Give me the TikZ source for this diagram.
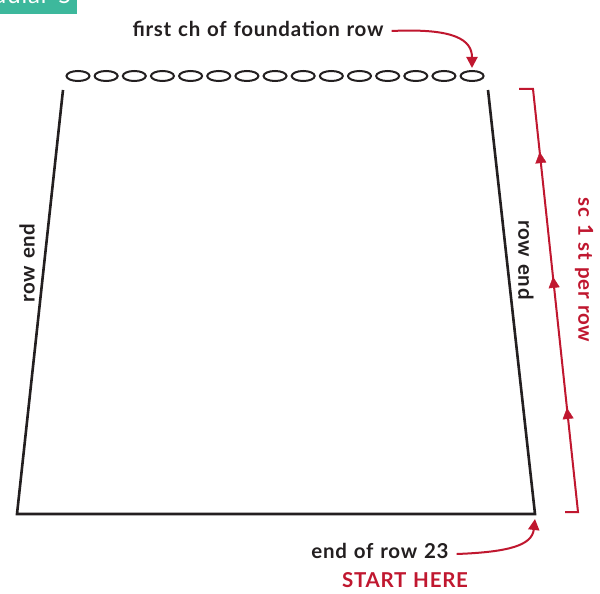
\documentclass[tikz,border=0pt]{standalone}
\usepackage{fontspec}
\setmainfont{Lato}[LetterSpace=3.5,WordSpace=1.2]
\usetikzlibrary{arrows.meta,decorations.markings}
\definecolor{ink}{HTML}{231F20}
\definecolor{redc}{HTML}{C0172F}
\definecolor{teal}{HTML}{3DB89C}
\begin{document}
\begin{tikzpicture}[x=1pt,y=-1pt,
  outline/.style={ink,line width=2.6pt},
  chainst/.style={ink,line width=2pt},
  redline/.style={redc,line width=2pt},
  lbl/.style={ink,font=\bfseries\fontsize{20.5}{20.5}\selectfont,inner sep=0pt},
  rlbl/.style={redc,font=\bfseries\fontsize{20.5}{20.5}\selectfont,inner sep=0pt},
  tip/.style={-{Triangle[length=11pt,width=11pt]}}]
\useasboundingbox (0,0) rectangle (600,594);
\fill[white] (0,0) rectangle (600,594);
% teal header
\begin{scope}
\clip (0,0) rectangle (77,14);
\fill[teal] (0,0) rectangle (77,14);
\node[white,font=\fontsize{24}{24}\selectfont,inner sep=0pt,anchor=base east] (hdr) at (72,4) {Modular 5};
\end{scope}
% trapezoid
\coordinate (tl) at (63,90);
\coordinate (bl) at (17,514);
\coordinate (br) at (535,514);
\coordinate (tr) at (488,90);
\draw[outline,line join=miter] (tl) -- (bl) -- (br) -- (tr);
% chain
\foreach \i in {0,...,14}{
  \draw[chainst] (78+28.15*\i,76) ellipse (11.5pt and 5pt);
}
\coordinate (ch1) at (472,68);
% top label
\node[lbl,anchor=base] (top) at (258,37) {first ch of foundation row};
\draw[redline,tip] (top.east |- 0,31) ++(8,0) coordinate (ta) .. controls (455,28) and (472,40) .. (ch1);
% row end labels
\node[lbl,rotate=90] (le) at (27,263) {row end};
\node[lbl,rotate=-90] (re) at (526,260) {row end};
% bracket
\coordinate (b1) at (519,89);
\coordinate (b2) at (533,89);
\coordinate (b3) at (578,512);
\coordinate (b4) at (565,512);
\draw[redline,line join=miter] (b1) -- (b2) -- (b3) -- (b4);
\path[decorate,decoration={markings,
  mark=at position 0.246 with {\arrow{Triangle[length=11pt,width=11pt,redc]}},
  mark=at position 0.556 with {\arrow{Triangle[length=11pt,width=11pt,redc]}},
  mark=at position 0.851 with {\arrow{Triangle[length=11pt,width=11pt,redc]}}}]
  (b3) -- (b2);
\node[rlbl,rotate=-90] (sc) at (584,270) {sc 1 st per row};
% bottom labels
\node[lbl,anchor=base] (end) at (380,558) {end of row 23};
\node[rlbl,anchor=base] (start) at (405,587) {START HERE};
\draw[redline,tip] (end.east |- 0,554) ++(8,0) .. controls (510,552) and (532,545) .. (br |- 0,519);
\end{tikzpicture}
\end{document}
